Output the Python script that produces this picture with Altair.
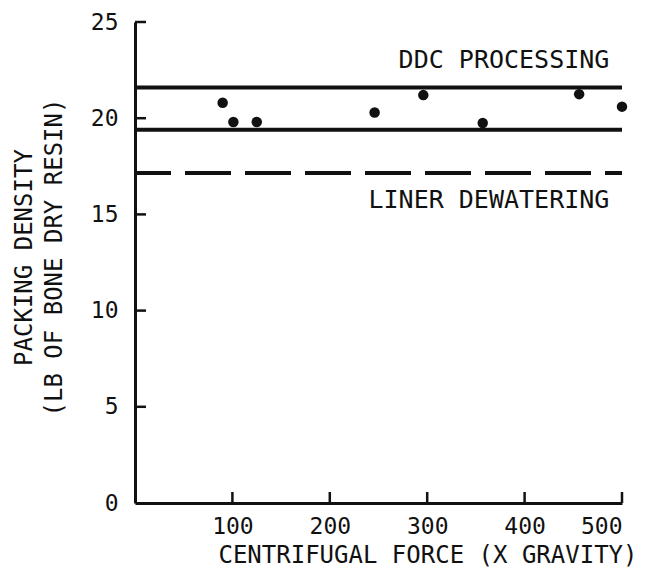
import altair as alt
import pandas as pd

# data
force = [90, 101, 125, 246, 296, 357, 456, 500]
density = [20.8, 19.8, 19.8, 20.3, 21.2, 19.75, 21.25, 20.6]

line_names = ["DDC upper", "DDC lower", "Liner dewatering"]
line_values = [21.6, 19.4, 17.15]
line_dashed = [False, False, True]

label_texts = ["DDC PROCESSING", "LINER DEWATERING"]
label_x = [487, 487]
label_y = [23.0, 15.75]

x_ticks = [100, 200, 300, 400, 500]
y_ticks = [0, 5, 10, 15, 20, 25]
y_inner_ticks = [5, 10, 15, 20, 25]

FONT = "DejaVu Sans Mono"
INK = "#111111"
W, H = 487, 481

pts = pd.DataFrame({"force": force, "density": density})
lines = pd.DataFrame({"name": line_names, "value": line_values,
                      "dashed": line_dashed, "x0": 0, "x1": 500})
labels = pd.DataFrame({"text": label_texts, "x": label_x, "y": label_y})
xt = pd.DataFrame({"t": x_ticks})
yt = pd.DataFrame({"t": y_inner_ticks})

xscale = alt.Scale(domain=[0, 500], nice=False, zero=False)
yscale = alt.Scale(domain=[0, 25], nice=False)

xaxis = alt.Axis(values=x_ticks, title="CENTRIFUGAL FORCE (X GRAVITY)",
                 grid=False, ticks=False, labelPadding=12,
                 titleX=502, titleY=52, titleAlign="right",
                 titleBaseline="middle")
yaxis = alt.Axis(values=y_ticks, title=["PACKING DENSITY", "(LB OF BONE DRY RESIN)"],
                 grid=False, ticks=False, labelPadding=17,
                 titleX=-111, titleY=235, titleBaseline="middle",
                 titleLineHeight=30, titleAngle=270, titleAlign="center")

points = alt.Chart(pts).mark_circle(size=110, color=INK, opacity=1).encode(
    x=alt.X("force:Q", scale=xscale, axis=xaxis),
    y=alt.Y("density:Q", scale=yscale, axis=yaxis),
)

solid = alt.Chart(lines).transform_filter("!datum.dashed").mark_rule(
    color=INK, strokeWidth=4).encode(
    x=alt.X("x0:Q", scale=xscale), x2="x1:Q",
    y=alt.Y("value:Q", scale=yscale),
)
dashed = alt.Chart(lines).transform_filter("datum.dashed").mark_rule(
    color=INK, strokeWidth=4, strokeDash=[46, 14], strokeDashOffset=10).encode(
    x=alt.X("x0:Q", scale=xscale), x2="x1:Q",
    y=alt.Y("value:Q", scale=yscale),
)

text = alt.Chart(labels).mark_text(
    font=FONT, fontSize=25, color=INK, align="right", baseline="middle").encode(
    x=alt.X("x:Q", scale=xscale), y=alt.Y("y:Q", scale=yscale), text="text:N")

xtick_marks = alt.Chart(xt).mark_rule(color=INK, strokeWidth=2.5).encode(
    x=alt.X("t:Q", scale=xscale), y=alt.value(H), y2=alt.value(H - 11))
ytick_marks = alt.Chart(yt).mark_rule(color=INK, strokeWidth=2.5).encode(
    y=alt.Y("t:Q", scale=yscale), x=alt.value(0), x2=alt.value(11))

chart = alt.layer(solid, dashed, points, text, xtick_marks, ytick_marks).properties(
    width=W, height=H,
    autosize=alt.AutoSizeParams(type="none"),
    padding={"left": 127, "top": 14, "right": 30, "bottom": 73},
    background="white",
).configure_view(stroke=None).configure_axis(
    labelFont=FONT, labelFontSize=23, labelColor=INK, labelFontWeight="normal",
    titleFont=FONT, titleFontSize=24, titleColor=INK, titleFontWeight="normal",
    domainColor=INK, domainWidth=3,
)

chart.save("out.html", embed_options={"renderer": "svg", "actions": False})
